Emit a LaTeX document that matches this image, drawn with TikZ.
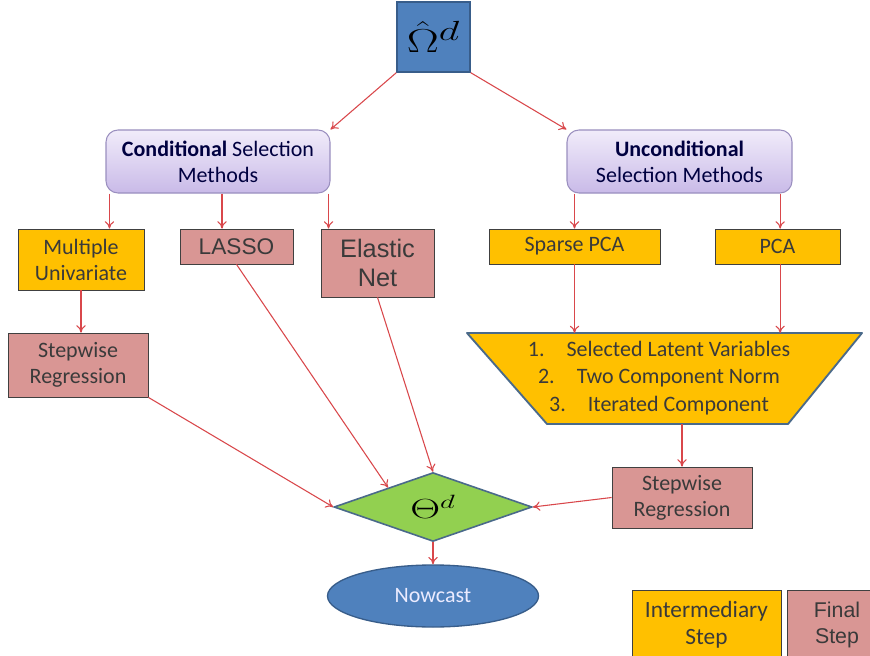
\documentclass[tikz,border=0pt]{standalone}
\usepackage{fontspec}
\setmainfont{Carlito}
\newfontfamily\arialf{Liberation Sans}
\usetikzlibrary{shapes.geometric,arrows.meta,calc}
\definecolor{arrred}{HTML}{D9474B}
\definecolor{orng}{HTML}{FFC000}
\definecolor{pinkb}{HTML}{D99694}
\definecolor{bluef}{HTML}{4F81BD}
\definecolor{blueb}{HTML}{385D8A}
\definecolor{lavtop}{HTML}{F1ECFA}
\definecolor{lavbot}{HTML}{C9BAE8}
\definecolor{lavb}{HTML}{9A8FBF}
\definecolor{greenf}{HTML}{92D050}
\definecolor{slate}{HTML}{4A6A8A}
\definecolor{txt}{HTML}{3A3A3A}
\begin{document}
\begin{tikzpicture}[x=0.75pt,y=-0.75pt,
  arr/.style={draw=arrred, line width=0.8pt, -{To[length=5.5pt,width=7pt]}},
  base/.style={draw=black!75, line width=0.6pt, inner sep=2pt, align=center, text=txt, font=\fontsize{16.5}{19.5}\selectfont},
  obox/.style={base, fill=orng},
  pbox/.style={base, fill=pinkb},
  rbox/.style={draw=lavb, line width=0.8pt, rounded corners=9pt, top color=lavtop, bottom color=lavbot, align=center, text=black!75!blue, font=\fontsize{16.5}{19.5}\selectfont}
]
\clip (0,0) rectangle (870,656);
\fill[white] (0,0) rectangle (870,656);

\node[draw=blueb, line width=1pt, fill=bluef, minimum width=54.75pt, minimum height=52.5pt, inner sep=0pt, font=\fontsize{28}{28}\selectfont] (omega) at (433.5,37) {\scalebox{1.45}[1]{$\hat{\Omega}^{d}$}};

\node[rbox, minimum width=168pt, minimum height=47.25pt] (cond) at (218,161.5) {\textbf{Conditional} Selection\\Methods};
\node[rbox, minimum width=168.75pt, minimum height=47.25pt] (uncond) at (679.5,161.5) {\textbf{Unconditional}\\Selection Methods};

\node[obox, minimum width=94.5pt, minimum height=45.75pt] (mu) at (81,259.5) {Multiple\\Univariate};
\node[pbox, minimum width=84.75pt, minimum height=26.25pt, font=\arialf\fontsize{17}{20}\selectfont] (lasso) at (236.5,246.5) {LASSO};
\node[pbox, minimum width=84.75pt, minimum height=51pt, font=\arialf\fontsize{19}{22}\selectfont] (enet) at (377.5,263) {Elastic\\Net};
\node[obox, minimum width=128.25pt, minimum height=26.25pt] (spca) at (574.5,246.5) {Sparse PCA};
\node[obox, minimum width=93.75pt, minimum height=26.25pt] (pca) at (777.5,246.5) {PCA};

\node[pbox, minimum width=105pt, minimum height=48pt] (swl) at (78,365) {Stepwise\\Regression};

% trapezoid
\coordinate (trapTop) at (664,333);
\coordinate (trapBot) at (667,424);
\draw[slate, line width=1.4pt, fill=orng, line join=round] (467,333) -- (862,333) -- (788,424) -- (547,424) -- cycle;
\node[align=center, text=txt, font=\fontsize{16.5}{20.5}\selectfont] (trap) at (659,378) {1.\quad Selected Latent Variables\\2.\quad Two Component Norm\\3.\quad Iterated Component};

\node[pbox, minimum width=105pt, minimum height=45.75pt] (swr) at (682,497.5) {Stepwise\\Regression};

\node[diamond, draw=slate, line width=1.2pt, fill=greenf, minimum width=148.5pt, minimum height=50.25pt, inner sep=0pt, font=\fontsize{20}{20}\selectfont] (dia) at (433,507) {\scalebox{1.5}[1]{$\Theta^{d}$}};

\node[ellipse, draw=blueb, line width=1pt, fill=bluef, minimum width=158.25pt, minimum height=46.5pt, text=white!92!blue, font=\fontsize{16.5}{18}\selectfont] (now) at (433,596) {Nowcast};

\node[obox, minimum width=111.75pt, minimum height=52.5pt, font=\fontsize{17.5}{20}\selectfont] (legI) at (706.5,625) {Intermediary\\Step};
\node[pbox, minimum width=75pt, minimum height=52.5pt, font=\arialf\fontsize{16}{20}\selectfont, text width=60pt] (legF) at (837,625) {Final\\Step};

% connectors
\draw[arr] (omega.south west) -- (cond.north east);
\draw[arr] (omega.south east) -- (uncond.north west);
\draw[arr] ([xshift=3pt]cond.south west) -- ([xshift=3pt]cond.south west |- mu.north);
\draw[arr] ([xshift=3pt]cond.south) -- ([xshift=3pt]cond.south |- lasso.north);
\draw[arr] ([xshift=-1.5pt]cond.south east) -- ([xshift=-1.5pt]cond.south east |- enet.north);
\draw[arr] (spca.north |- uncond.south) -- (spca.north);
\draw[arr] ([xshift=2pt]pca.north |- uncond.south) -- ([xshift=2pt]pca.north);
\draw[arr] (mu.south) -- (mu.south |- swl.north);
\draw[arr] (spca.south) -- (spca.south |- trapTop);
\draw[arr] ([xshift=2pt]pca.south) -- ([xshift=2pt]pca.south |- trapTop);
\draw[arr] (swr.north |- trapBot) -- (swr.north);
\draw[arr] (swl.south east) -- (dia.west);
\draw[arr] (lasso.south) -- ($(dia.west)!0.55!(dia.north)$);
\draw[arr] (enet.south) -- (dia.north);
\draw[arr] (swr.west) -- (dia.east);
\draw[arr] (dia.south) -- (now.north);
\end{tikzpicture}
\end{document}
